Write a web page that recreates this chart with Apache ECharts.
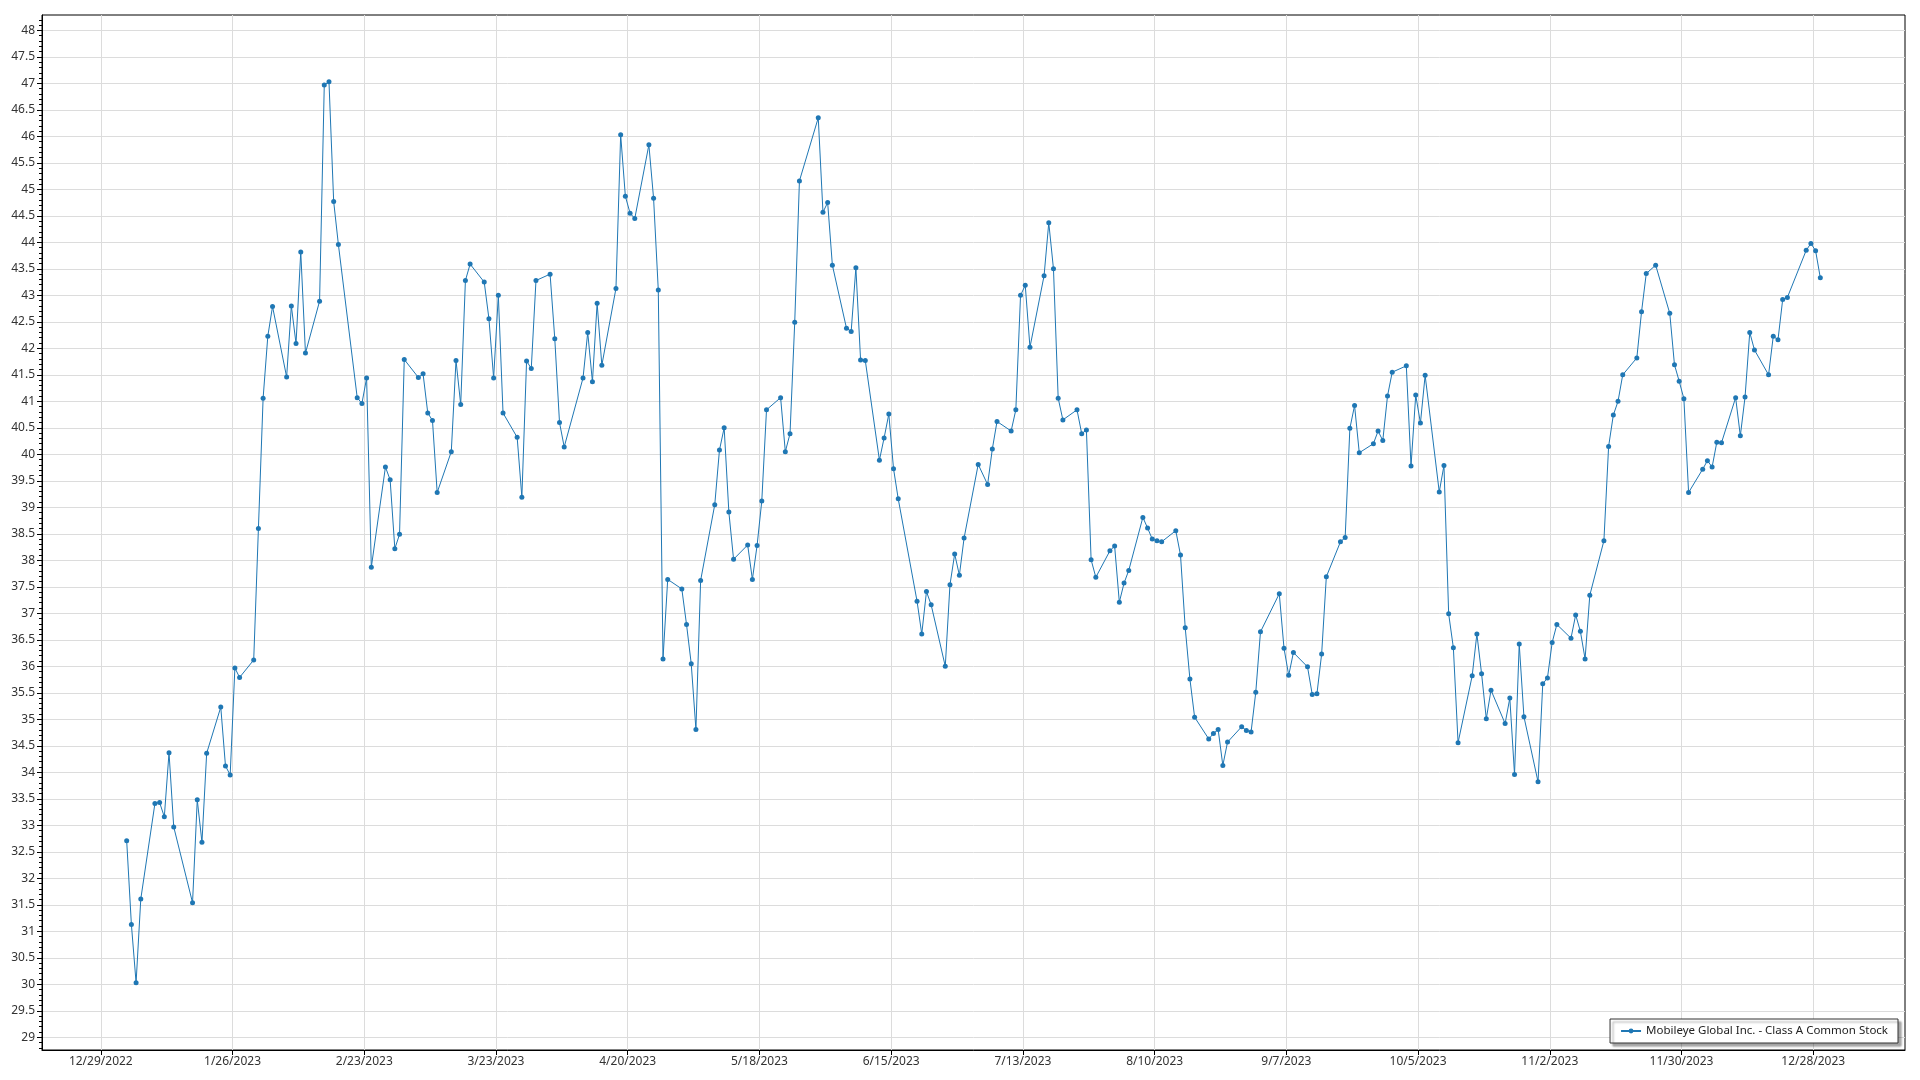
<!DOCTYPE html>
<html><head><meta charset="utf-8">
<script src="https://cdn.jsdelivr.net/npm/echarts@6/dist/echarts.min.js"></script>
<style>html,body{margin:0;padding:0;background:#fff}#chart{width:1920px;height:1080px}</style>
</head><body><div id="chart"></div>
<script>
const seriesName = 'Mobileye Global Inc. - Class A Common Stock';

const dates = [
'2023-01-03','2023-01-04','2023-01-05','2023-01-06','2023-01-09','2023-01-10','2023-01-11','2023-01-12','2023-01-13','2023-01-17','2023-01-18','2023-01-19','2023-01-20','2023-01-23','2023-01-24','2023-01-25','2023-01-26','2023-01-27','2023-01-30','2023-01-31',
'2023-02-01','2023-02-02','2023-02-03','2023-02-06','2023-02-07','2023-02-08','2023-02-09','2023-02-10','2023-02-13','2023-02-14','2023-02-15','2023-02-16','2023-02-17','2023-02-21','2023-02-22','2023-02-23','2023-02-24','2023-02-27','2023-02-28',
'2023-03-01','2023-03-02','2023-03-03','2023-03-06','2023-03-07','2023-03-08','2023-03-09','2023-03-10','2023-03-13','2023-03-14','2023-03-15','2023-03-16','2023-03-17','2023-03-20','2023-03-21','2023-03-22','2023-03-23','2023-03-24','2023-03-27','2023-03-28','2023-03-29','2023-03-30','2023-03-31',
'2023-04-03','2023-04-04','2023-04-05','2023-04-06','2023-04-10','2023-04-11','2023-04-12','2023-04-13','2023-04-14','2023-04-17','2023-04-18','2023-04-19','2023-04-20','2023-04-21','2023-04-24','2023-04-25','2023-04-26','2023-04-27','2023-04-28',
'2023-05-01','2023-05-02','2023-05-03','2023-05-04','2023-05-05','2023-05-08','2023-05-09','2023-05-10','2023-05-11','2023-05-12','2023-05-15','2023-05-16','2023-05-17','2023-05-18','2023-05-19','2023-05-22','2023-05-23','2023-05-24','2023-05-25','2023-05-26','2023-05-30','2023-05-31',
'2023-06-01','2023-06-02','2023-06-05','2023-06-06','2023-06-07','2023-06-08','2023-06-09','2023-06-12','2023-06-13','2023-06-14','2023-06-15','2023-06-16','2023-06-20','2023-06-21','2023-06-22','2023-06-23','2023-06-26','2023-06-27','2023-06-28','2023-06-29','2023-06-30',
'2023-07-03','2023-07-05','2023-07-06','2023-07-07','2023-07-10','2023-07-11','2023-07-12','2023-07-13','2023-07-14','2023-07-17','2023-07-18','2023-07-19','2023-07-20','2023-07-21','2023-07-24','2023-07-25','2023-07-26','2023-07-27','2023-07-28','2023-07-31',
'2023-08-01','2023-08-02','2023-08-03','2023-08-04','2023-08-07','2023-08-08','2023-08-09','2023-08-10','2023-08-11','2023-08-14','2023-08-15','2023-08-16','2023-08-17','2023-08-18','2023-08-21','2023-08-22','2023-08-23','2023-08-24','2023-08-25','2023-08-28','2023-08-29','2023-08-30','2023-08-31',
'2023-09-01','2023-09-05','2023-09-06','2023-09-07','2023-09-08','2023-09-11','2023-09-12','2023-09-13','2023-09-14','2023-09-15','2023-09-18','2023-09-19','2023-09-20','2023-09-21','2023-09-22','2023-09-25','2023-09-26','2023-09-27','2023-09-28','2023-09-29',
'2023-10-02','2023-10-03','2023-10-04','2023-10-05','2023-10-06','2023-10-09','2023-10-10','2023-10-11','2023-10-12','2023-10-13','2023-10-16','2023-10-17','2023-10-18','2023-10-19','2023-10-20','2023-10-23','2023-10-24','2023-10-25','2023-10-26','2023-10-27','2023-10-30','2023-10-31',
'2023-11-01','2023-11-02','2023-11-03','2023-11-06','2023-11-07','2023-11-08','2023-11-09','2023-11-10','2023-11-13','2023-11-14','2023-11-15','2023-11-16','2023-11-17','2023-11-20','2023-11-21','2023-11-22','2023-11-24','2023-11-27','2023-11-28','2023-11-29','2023-11-30',
'2023-12-01','2023-12-04','2023-12-05','2023-12-06','2023-12-07','2023-12-08','2023-12-11','2023-12-12','2023-12-13','2023-12-14','2023-12-15','2023-12-18','2023-12-19','2023-12-20','2023-12-21','2023-12-22','2023-12-26','2023-12-27','2023-12-28','2023-12-29'
];

const prices = [
32.71,31.13,30.03,31.61,33.41,33.43,33.16,34.37,32.97,31.54,33.48,32.68,34.36,35.23,34.12,33.95,35.97,35.79,36.12,38.60,
41.06,42.23,42.79,41.46,42.80,42.09,43.82,41.91,42.89,46.97,47.03,44.77,43.96,41.07,40.96,41.44,37.87,39.76,39.52,
38.22,38.49,41.79,41.45,41.52,40.78,40.64,39.28,40.05,41.77,40.94,43.28,43.59,43.25,42.56,41.44,43.00,40.78,40.32,39.19,41.76,41.62,43.28,
43.40,42.18,40.60,40.14,41.44,42.30,41.37,42.85,41.68,43.13,46.03,44.87,44.55,44.45,45.84,44.83,43.10,36.14,37.64,
37.46,36.79,36.05,34.81,37.62,39.05,40.08,40.50,38.91,38.02,38.29,37.64,38.28,39.12,40.84,41.07,40.05,40.39,42.49,45.16,46.35,44.57,
44.75,43.57,42.38,42.32,43.52,41.78,41.77,39.89,40.31,40.76,39.73,39.16,37.23,36.61,37.41,37.16,36.00,37.54,38.12,37.72,38.42,
39.81,39.43,40.10,40.62,40.44,40.84,43.00,43.19,42.02,43.37,44.37,43.50,41.06,40.65,40.84,40.39,40.46,38.01,37.68,38.18,
38.27,37.21,37.57,37.81,38.81,38.61,38.40,38.37,38.35,38.56,38.10,36.73,35.76,35.04,34.63,34.73,34.81,34.13,34.57,34.86,34.79,34.76,35.51,
36.65,37.37,36.34,35.83,36.26,35.99,35.47,35.48,36.23,37.69,38.35,38.43,40.49,40.92,40.03,40.20,40.44,40.26,41.10,41.55,
41.67,39.78,41.12,40.59,41.49,39.29,39.79,36.99,36.35,34.56,35.82,36.61,35.86,35.01,35.55,34.92,35.40,33.96,36.42,35.05,33.82,35.67,
35.78,36.45,36.79,36.53,36.97,36.66,36.14,37.34,38.37,40.15,40.74,41.00,41.50,41.82,42.69,43.41,43.57,42.66,41.69,41.38,41.05,
39.28,39.72,39.88,39.76,40.23,40.22,41.07,40.35,41.08,42.30,41.97,41.50,42.23,42.16,42.92,42.96,43.85,43.98,43.84,43.33
];

const xTickDates = ['2022-12-29','2023-01-26','2023-02-23','2023-03-23','2023-04-20','2023-05-18','2023-06-15','2023-07-13','2023-08-10','2023-09-07','2023-10-05','2023-11-02','2023-11-30','2023-12-28'];
const yTickLabels = [29,29.5,30,30.5,31,31.5,32,32.5,33,33.5,34,34.5,35,35.5,36,36.5,37,37.5,38,38.5,39,39.5,40,40.5,41,41.5,42,42.5,43,43.5,44,44.5,45,45.5,46,46.5,47,47.5,48];

const BASE = Date.UTC(2022, 11, 29);
const DAY = 86400000;
function dayNum(s) { const p = s.split('-').map(Number); return (Date.UTC(p[0], p[1] - 1, p[2]) - BASE) / DAY; }
function fmtDay(v) { const t = new Date(BASE + Math.round(v) * DAY); return (t.getUTCMonth() + 1) + '/' + t.getUTCDate() + '/' + t.getUTCFullYear(); }

const points = dates.map((d, i) => [dayNum(d) + 0.5, prices[i]]);
const xTicks = xTickDates.map(dayNum);
const yMinor = [];
for (let k = 288; k <= 482; k++) { if (k % 5 !== 0) yMinor.push(k / 10); }

const FONT = 'Noto Sans';
const chart = echarts.init(document.getElementById('chart'), null, { renderer: 'canvas' });
chart.setOption({
  animation: false,
  backgroundColor: '#ffffff',
  textStyle: { fontFamily: FONT },
  grid: { left: 42, top: 15, right: 15, bottom: 30, show: true, borderColor: '#000', borderWidth: 1, backgroundColor: 'transparent', containLabel: false },
  legend: {
    show: true,
    data: [seriesName],
    right: 22, bottom: 37,
    orient: 'horizontal',
    padding: [6, 10],
    backgroundColor: '#ffffff',
    borderColor: '#333333',
    borderWidth: 1,
    borderRadius: 0,
    shadowColor: 'rgba(0,0,0,0.35)',
    shadowBlur: 2,
    shadowOffsetX: 3,
    shadowOffsetY: 3,
    itemWidth: 20,
    itemHeight: 6,
    textStyle: { fontFamily: FONT, fontSize: 11.5, color: '#222' }
  },
  xAxis: {
    type: 'value',
    min: -12.5, max: 383.5,
    axisLine: { show: true, onZero: false, lineStyle: { color: '#000', width: 1 } },
    axisTick: { show: true, length: 5, inside: false, customValues: xTicks, lineStyle: { color: '#000' } },
    axisLabel: { show: true, customValues: xTicks, margin: 6, fontSize: 12, color: '#333', fontFamily: FONT, formatter: v => fmtDay(v) },
    splitLine: { show: true, lineStyle: { color: '#dcdcdc', width: 1 } },
    minorTick: { show: false }
  },
  yAxis: [{
    type: 'value',
    position: 'left',
    min: 28.76, max: 48.29,
    axisLine: { show: true, onZero: false, lineStyle: { color: '#000', width: 1 } },
    axisTick: { show: true, length: 5, inside: false, customValues: yTickLabels, lineStyle: { color: '#000' } },
    axisLabel: { show: true, customValues: yTickLabels, margin: 7, fontSize: 12, color: '#333', fontFamily: FONT },
    splitLine: { show: true, lineStyle: { color: '#dcdcdc', width: 1 } }
  }, {
    type: 'value',
    position: 'left',
    min: 28.76, max: 48.29,
    axisLine: { show: false, onZero: false },
    axisTick: { show: true, length: 3, inside: false, customValues: yMinor, lineStyle: { color: '#000' } },
    axisLabel: { show: false },
    splitLine: { show: false }
  }],
  series: [{
    name: seriesName,
    type: 'line',
    data: points,
    xAxisIndex: 0, yAxisIndex: 0,
    symbol: 'circle',
    symbolSize: 5,
    showSymbol: true,
    itemStyle: { color: '#1f77b4' },
    lineStyle: { color: '#1f77b4', width: 1 },
    emphasis: { disabled: true }
  }]
});
</script></body></html>
